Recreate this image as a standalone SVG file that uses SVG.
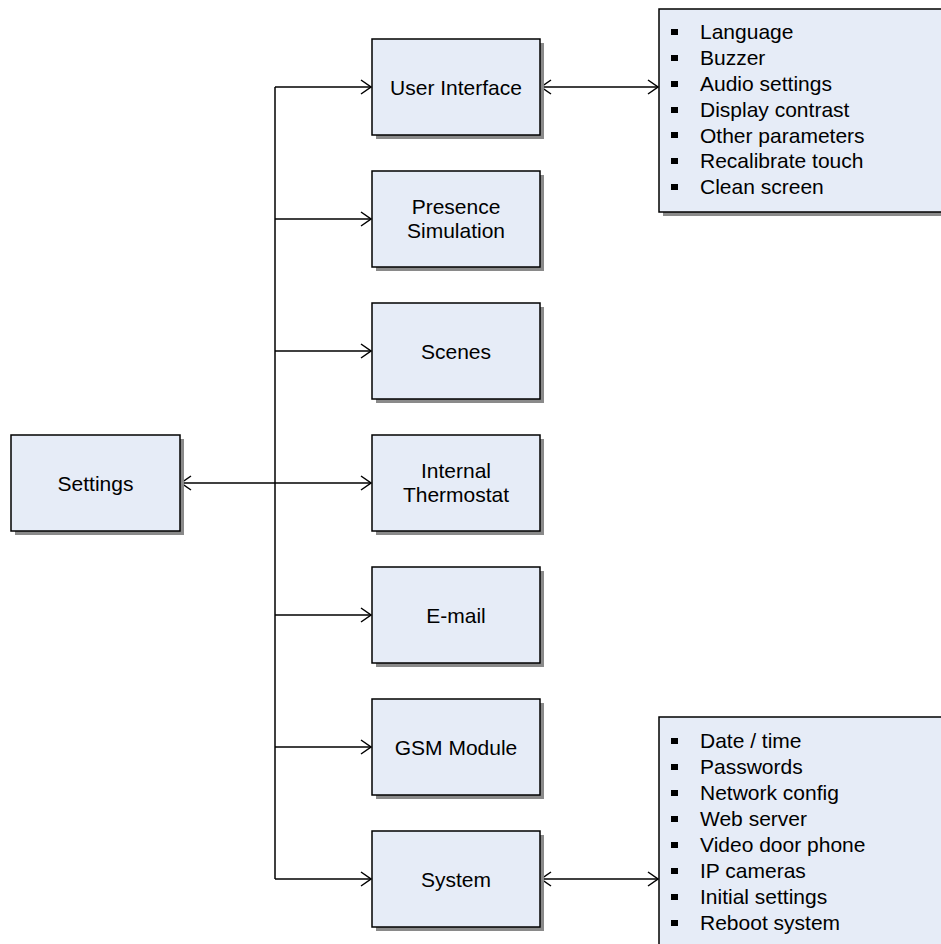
<svg xmlns="http://www.w3.org/2000/svg" width="941" height="944" viewBox="0 0 941 944">
<defs>
<style>
.box{fill:#e6ecf7;stroke:#000;stroke-width:1.5}
.sh{fill:#8a8a8a}
.t{font-family:"Liberation Sans",Arial,sans-serif;font-size:21px;fill:#000}
.c{text-anchor:middle}
.ln{stroke:#000;stroke-width:1.5;fill:none}
.b{fill:#000}
</style>
<marker id="ah" viewBox="0 0 12 16" refX="11" refY="8" markerWidth="12" markerHeight="16" markerUnits="userSpaceOnUse" orient="auto-start-reverse">
<path d="M1,1 L11,8 L1,15" fill="none" stroke="#000" stroke-width="1.5"/>
</marker>
</defs>
<rect width="941" height="944" fill="#fff"/>
<g id="connectors">
<line class="ln" x1="275" y1="87" x2="275" y2="879"/>
<line class="ln" x1="275" y1="87" x2="371" y2="87" marker-end="url(#ah)"/>
<line class="ln" x1="275" y1="219" x2="371" y2="219" marker-end="url(#ah)"/>
<line class="ln" x1="275" y1="351" x2="371" y2="351" marker-end="url(#ah)"/>
<line class="ln" x1="275" y1="483" x2="371" y2="483" marker-end="url(#ah)"/>
<line class="ln" x1="275" y1="615" x2="371" y2="615" marker-end="url(#ah)"/>
<line class="ln" x1="275" y1="747" x2="371" y2="747" marker-end="url(#ah)"/>
<line class="ln" x1="275" y1="879" x2="371" y2="879" marker-end="url(#ah)"/>
<line class="ln" x1="181" y1="483" x2="275" y2="483" marker-start="url(#ah)"/>
<line class="ln" x1="541" y1="87" x2="658" y2="87" marker-start="url(#ah)" marker-end="url(#ah)"/>
<line class="ln" x1="541" y1="879" x2="658" y2="879" marker-start="url(#ah)" marker-end="url(#ah)"/>
</g>
<g id="settings">
<rect class="sh" x="15" y="439" width="169" height="96"/>
<rect class="box" x="11" y="435" width="169" height="96"/>
<text class="t c" x="95.5" y="490.5">Settings</text>
</g>
<g id="user-interface">
<rect class="sh" x="376" y="43" width="168" height="96"/>
<rect class="box" x="372" y="39" width="168" height="96"/>
<text class="t c" x="456" y="94.5">User Interface</text>
</g>
<g id="presence-simulation">
<rect class="sh" x="376" y="175" width="168" height="96"/>
<rect class="box" x="372" y="171" width="168" height="96"/>
<text class="t c" x="456" y="213.5">Presence</text>
<text class="t c" x="456" y="237.5">Simulation</text>
</g>
<g id="scenes">
<rect class="sh" x="376" y="307" width="168" height="96"/>
<rect class="box" x="372" y="303" width="168" height="96"/>
<text class="t c" x="456" y="358.5">Scenes</text>
</g>
<g id="internal-thermostat">
<rect class="sh" x="376" y="439" width="168" height="96"/>
<rect class="box" x="372" y="435" width="168" height="96"/>
<text class="t c" x="456" y="477.5">Internal</text>
<text class="t c" x="456" y="501.5">Thermostat</text>
</g>
<g id="e-mail">
<rect class="sh" x="376" y="571" width="168" height="96"/>
<rect class="box" x="372" y="567" width="168" height="96"/>
<text class="t c" x="456" y="622.5">E-mail</text>
</g>
<g id="gsm-module">
<rect class="sh" x="376" y="703" width="168" height="96"/>
<rect class="box" x="372" y="699" width="168" height="96"/>
<text class="t c" x="456" y="754.5">GSM Module</text>
</g>
<g id="system">
<rect class="sh" x="376" y="835" width="168" height="96"/>
<rect class="box" x="372" y="831" width="168" height="96"/>
<text class="t c" x="456" y="886.5">System</text>
</g>
<g id="ui-list">
<rect class="sh" x="663" y="13" width="290" height="203"/>
<rect class="box" x="659" y="9" width="290" height="203"/>
<rect class="b" x="671" y="29" width="7" height="6"/>
<rect class="b" x="671" y="55" width="7" height="6"/>
<rect class="b" x="671" y="81" width="7" height="6"/>
<rect class="b" x="671" y="107" width="7" height="6"/>
<rect class="b" x="671" y="132" width="7" height="6"/>
<rect class="b" x="671" y="158" width="7" height="6"/>
<rect class="b" x="671" y="184" width="7" height="6"/>
<text class="t" x="700" y="39.3">Language</text>
<text class="t" x="700" y="65.1">Buzzer</text>
<text class="t" x="700" y="90.9">Audio settings</text>
<text class="t" x="700" y="116.7">Display contrast</text>
<text class="t" x="700" y="142.5">Other parameters</text>
<text class="t" x="700" y="168.3">Recalibrate touch</text>
<text class="t" x="700" y="194.1">Clean screen</text>
</g>
<g id="system-list">
<rect class="sh" x="663" y="721" width="290" height="240"/>
<rect class="box" x="659" y="717" width="290" height="240"/>
<rect class="b" x="671" y="738" width="7" height="6"/>
<rect class="b" x="671" y="764" width="7" height="6"/>
<rect class="b" x="671" y="790" width="7" height="6"/>
<rect class="b" x="671" y="816" width="7" height="6"/>
<rect class="b" x="671" y="842" width="7" height="6"/>
<rect class="b" x="671" y="868" width="7" height="6"/>
<rect class="b" x="671" y="894" width="7" height="6"/>
<rect class="b" x="671" y="920" width="7" height="6"/>
<text class="t" x="700" y="747.7">Date / time</text>
<text class="t" x="700" y="773.7">Passwords</text>
<text class="t" x="700" y="799.7">Network config</text>
<text class="t" x="700" y="825.7">Web server</text>
<text class="t" x="700" y="851.7">Video door phone</text>
<text class="t" x="700" y="877.7">IP cameras</text>
<text class="t" x="700" y="903.7">Initial settings</text>
<text class="t" x="700" y="929.7">Reboot system</text>
</g>
</svg>
